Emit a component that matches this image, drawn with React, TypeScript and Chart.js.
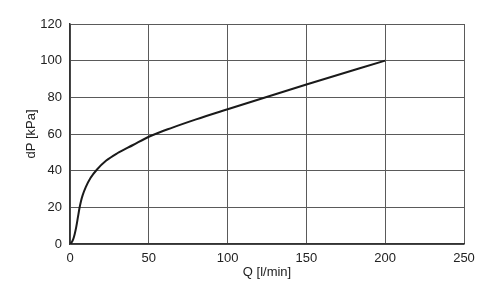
import React, { useEffect, useRef } from "react";
import { Chart, registerables } from "chart.js";

Chart.register(...registerables);

const flowQ: number[] = [0, 1, 2, 3, 4, 5, 6, 7, 8, 10, 13, 17, 23, 30, 40, 50, 65, 80, 100, 150, 200];
const pressureDP: number[] = [0, 0.8, 2.5, 5.5, 9.5, 14.5, 19.5, 23.5, 26.5, 31, 36, 40.5, 45.5, 49.5, 54, 58.5, 63.5, 68, 73.5, 87, 100];
const xTicks: number[] = [0, 50, 100, 150, 200, 250];
const yTicks: number[] = [0, 20, 40, 60, 80, 100, 120];
const xTitle = "Q [l/min]";
const yTitle = "dP [kPa]";

export default function App() {
  const ref = useRef<HTMLCanvasElement | null>(null);
  useEffect(() => {
    document.body.style.margin = "0";
    if (!ref.current) return;
    const font = { family: "'Liberation Sans', Arial, sans-serif", size: 13 };
    const chart = new Chart(ref.current, {
      type: "line",
      data: {
        datasets: [
          {
            data: flowQ.map((q, i) => ({ x: q, y: pressureDP[i] })),
            borderColor: "#1a1a1a",
            borderWidth: 2,
            pointRadius: 0,
            cubicInterpolationMode: "monotone",
            fill: false,
          },
        ],
      },
      options: {
        animation: false,
        responsive: false,
        maintainAspectRatio: false,
        layout: { padding: { left: 20, top: 24, right: 36, bottom: 17 } },
        plugins: { legend: { display: false }, tooltip: { enabled: false } },
        scales: {
          x: {
            type: "linear",
            min: 0,
            max: 250,
            afterBuildTicks: (s: any) => {
              s.ticks = xTicks.map((v) => ({ value: v }));
            },
            afterFit: (s: any) => {
              s.height = 36;
            },
            grid: { color: "#5a5a5a", lineWidth: 1, drawTicks: false },
            border: { color: "#333", width: 1.5 },
            ticks: { color: "#222", font, padding: 7, maxRotation: 0 },
            title: { display: true, text: xTitle, color: "#222", font, padding: { top: 2, bottom: 0 } },
          },
          y: {
            type: "linear",
            min: 0,
            max: 120,
            afterBuildTicks: (s: any) => {
              s.ticks = yTicks.map((v) => ({ value: v }));
            },
            afterFit: (s: any) => {
              s.width = 50;
            },
            grid: { color: "#5a5a5a", lineWidth: 1, drawTicks: false },
            border: { color: "#333", width: 1.5 },
            ticks: { color: "#222", font, padding: 8 },
            title: { display: true, text: yTitle, color: "#222", font, padding: { top: 4, bottom: 0 } },
          },
        },
      },
    } as any);
    return () => chart.destroy();
  }, []);
  return (
    <div style={{ width: 500, height: 297 }}>
      <canvas ref={ref} width={500} height={297} style={{ display: "block" }} />
    </div>
  );
}
